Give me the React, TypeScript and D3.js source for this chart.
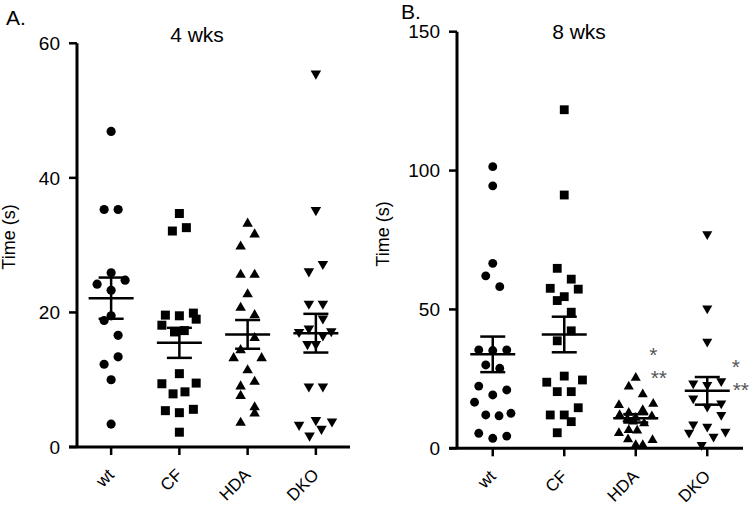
import React from "react";
import * as d3 from "d3";

const categories = ["wt", "CF", "HDA", "DKO"];

// 4 weeks (panel A) values and column slot (jitter) indices
const wk4Wt = [46.9, 35.3, 35.3, 25.9, 24.8, 24.2, 23.3, 19.5, 18.8, 16.6, 13.4, 12.3, 10.0, 3.4];
const wk4WtSlot = [0, -1, 1, 0, 2, -2, 0, 0, -1, 1, 1, -1, 0, 0];
const wk4Cf = [34.7, 32.6, 32.1, 19.9, 19.6, 19.5, 19.0, 18.1, 17.1, 17.3, 10.9, 9.4, 9.5, 7.9, 8.2, 5.4, 5.1, 5.6, 2.2];
const wk4CfSlot = [0, 1, -1, 2, -2, 0, 2.4, -2.5, -0.7, 0.7, 0, -2.5, 2.4, -0.9, 0.8, -2, 0, 2, 0];
const wk4Hda = [33.2, 31.6, 29.8, 25.6, 25.6, 22.7, 20.7, 19.6, 16.2, 14.4, 13.2, 13.2, 11.4, 9.7, 9.0, 7.6, 5.9, 5.0, 3.6];
const wk4HdaSlot = [0, 1, -1, -1, 1, 0, -1, 1, 1, -1, -2, 2, 0, 1, -1, -1, 1, 1, -1];
const wk4Dko = [55.5, 35.2, 27.2, 26.1, 21.3, 21.3, 19.1, 17.6, 17.2, 17.1, 16.6, 15.3, 15.3, 9.0, 9.0, 4.0, 3.8, 3.3, 2.7, 1.7];
const wk4DkoSlot = [0, 0, 1, -1, -1, 1, 1, -1, 2.2, -2.4, 1, -1.2, 0, -1, 1, 0, 2.3, -2.4, 0.8, -0.9];

// 8 weeks (panel B)
const wk8Wt = [101.4, 94.5, 66.6, 62.1, 58.2, 35.4, 35.2, 35.4, 30.0, 28.8, 22.4, 21.0, 19.2, 16.6, 12.0, 11.7, 12.6, 5.4, 3.6, 4.4];
const wk8WtSlot = [0, 0, 0, -1, 1, -2, 0, 2, -1, 1, -2, 2, 0, -2.6, -1, 0.9, 2.6, -2, 0, 2];
const wk8Cf = [121.9, 91.2, 64.8, 60.9, 57.6, 57.3, 54.6, 53.2, 49.0, 42.3, 38.7, 26.0, 23.8, 24.6, 20.4, 20.4, 14.6, 12.0, 12.0, 9.6, 5.6];
const wk8CfSlot = [0, 0, -1, 1, -2, 2, 0, -1, 1, 1, -1, 0, -2.5, 2.6, -1, 1, 2, -2, 0, 1, -1];
const wk8Hda = [25.4, 22.2, 19.4, 15.6, 16.0, 13.8, 12.8, 12.0, 11.5, 11.0, 10.5, 9.6, 9.0, 6.6, 6.4, 5.5, 3.2, 3.0, 1.2, 1.2];
const wk8HdaSlot = [0, -1, 1, -2.4, 2.5, 1, -1, -2.3, 2.3, 0, -1.2, -0.4, 1.2, -1, 0.2, -2.4, -1.1, 2.4, 0, 1];
const wk8Dko = [77.1, 50.4, 38.4, 24.2, 23.4, 22.8, 18.0, 16.2, 15.0, 12.0, 8.6, 7.8, 6.0, 5.6, 4.2, 1.2];
const wk8DkoSlot = [0, 0, 0, 2, -2, 0, -2, 2, 0, 2, -2, 0, 2.6, -2.6, 0.9, -0.8];

const ticksA = [0, 20, 40, 60];
const ticksB = [0, 50, 100, 150];

// significance marks (panel B): category, label, value level, slot offset
const sigCats = ["HDA", "HDA", "DKO", "DKO"];
const sigLabels = ["*", "**", "*", "**"];
const sigValues = [36.4, 28.0, 32.1, 23.8];
const sigSlots = [2.5, 3.3, 4.1, 4.8];

const shapes = [d3.symbolCircle, d3.symbolSquare, d3.symbolTriangle, d3.symbolTriangle];
const FONT = "'Liberation Sans', Arial, Helvetica, sans-serif";

type Group = { values: number[]; slots: number[] };

function Panel(props: {
  groups: Group[];
  x0: number; x1: number; yTop: number; yBottom: number;
  yMax: number; ticks: number[]; title: string; titleX: number; titleY: number;
  letter: string; letterX: number; letterY: number; ytitleX: number; ytitleY: number;
  sizes: number[]; sig?: boolean;
}) {
  const p = props;
  const x = d3.scaleBand<string>().domain(categories).range([p.x0, p.x1]).padding(0);
  const cx = (c: string) => (x(c) as number) + x.bandwidth() / 2;
  const y = d3.scaleLinear().domain([0, p.yMax]).range([p.yBottom, p.yTop]);
  const slotW = 7;
  const tickLen = 8;
  return (
    <g>
      <text x={p.letterX} y={p.letterY} fontSize={21} fontFamily={FONT} fill="#000">{p.letter}</text>
      <text x={p.titleX} y={p.titleY} fontSize={21} fontFamily={FONT} textAnchor="middle" fill="#000">{p.title}</text>
      <g transform={`translate(${p.ytitleX},${p.ytitleY}) rotate(-90)`}>
        <text x={0} y={0} fontSize={18} fontFamily={FONT} textAnchor="middle" fill="#000">Time (s)</text>
      </g>
      {/* y axis */}
      <line x1={p.x0} x2={p.x0} y1={y(p.yMax)} y2={y(0)} stroke="#000" strokeWidth={3} />
      {p.ticks.map((t) => (
        <g key={t}>
          <line x1={p.x0 - tickLen} x2={p.x0} y1={y(t)} y2={y(t)} stroke="#000" strokeWidth={2.5} />
          <text x={p.x0 - tickLen - 9} y={y(t)} dy="0.35em" textAnchor="end" fontSize={19} fontFamily={FONT} fill="#000">{t}</text>
        </g>
      ))}
      {/* x axis */}
      <line x1={p.x0 - tickLen} x2={p.x1} y1={y(0)} y2={y(0)} stroke="#000" strokeWidth={3} />
      {categories.map((c) => (
        <line key={"t" + c} x1={cx(c)} x2={cx(c)} y1={y(0)} y2={y(0) + tickLen} stroke="#000" strokeWidth={2.5} />
      ))}
      {categories.map((c) => (
        <g key={"l" + c} transform={`translate(${cx(c) + 4},${y(0) + 29}) rotate(-45)`}>
          <text x={0} y={0} textAnchor="end" fontSize={17} fontFamily={FONT} fill="#000">{c}</text>
        </g>
      ))}
      {/* points */}
      {p.groups.map((g, gi) => {
        const c = categories[gi];
        const sym = d3.symbol().type(shapes[gi]).size(p.sizes[gi])();
        return (
          <g key={c}>
            {g.values.map((v, i) => (
              <path key={i} d={sym as string}
                transform={`translate(${cx(c) + g.slots[i] * slotW},${y(v)})${gi === 3 ? " rotate(180)" : ""}`}
                fill="#000" />
            ))}
          </g>
        );
      })}
      {/* mean and SEM */}
      {p.groups.map((g, gi) => {
        const c = categories[gi];
        const m = d3.mean(g.values) as number;
        const sem = (d3.deviation(g.values) as number) / Math.sqrt(g.values.length);
        const X = cx(c);
        return (
          <g key={"m" + c} stroke="#000" strokeWidth={2.5}>
            <line x1={X - 22.5} x2={X + 22.5} y1={y(m)} y2={y(m)} />
            <line x1={X} x2={X} y1={y(m + sem)} y2={y(m - sem)} />
            <line x1={X - 12.5} x2={X + 12.5} y1={y(m + sem)} y2={y(m + sem)} />
            <line x1={X - 12.5} x2={X + 12.5} y1={y(m - sem)} y2={y(m - sem)} />
          </g>
        );
      })}
      {p.sig && sigLabels.map((s, i) => (
        <text key={"s" + i} x={cx(sigCats[i]) + sigSlots[i] * slotW} y={y(sigValues[i])} dy="0.7em"
          textAnchor="middle" fontSize={21} fontFamily={FONT} fill="#555">{s}</text>
      ))}
    </g>
  );
}

export default function App() {
  const groupsA: Group[] = [
    { values: wk4Wt, slots: wk4WtSlot },
    { values: wk4Cf, slots: wk4CfSlot },
    { values: wk4Hda, slots: wk4HdaSlot },
    { values: wk4Dko, slots: wk4DkoSlot },
  ];
  const groupsB: Group[] = [
    { values: wk8Wt, slots: wk8WtSlot },
    { values: wk8Cf, slots: wk8CfSlot },
    { values: wk8Hda, slots: wk8HdaSlot },
    { values: wk8Dko, slots: wk8DkoSlot },
  ];
  return (
    <svg width={751} height={506} style={{ position: "absolute", left: 0, top: 0, background: "#fff" }}>
      <rect width={751} height={506} fill="#fff" />
      <Panel groups={groupsA} x0={77} x1={350} yTop={43.3} yBottom={447} yMax={60} ticks={ticksA}
        title="4 wks" titleX={197} titleY={41.5} letter="A." letterX={6} letterY={25}
        ytitleX={15} ytitleY={237} sizes={[66, 81, 48, 48]} />
      <Panel groups={groupsB} x0={457} x1={743} yTop={31.7} yBottom={448.3} yMax={150} ticks={ticksB}
        title="8 wks" titleX={579} titleY={39} letter="B." letterX={401} letterY={19}
        ytitleX={389} ytitleY={234} sizes={[62, 78, 44, 44]} sig />
    </svg>
  );
}
